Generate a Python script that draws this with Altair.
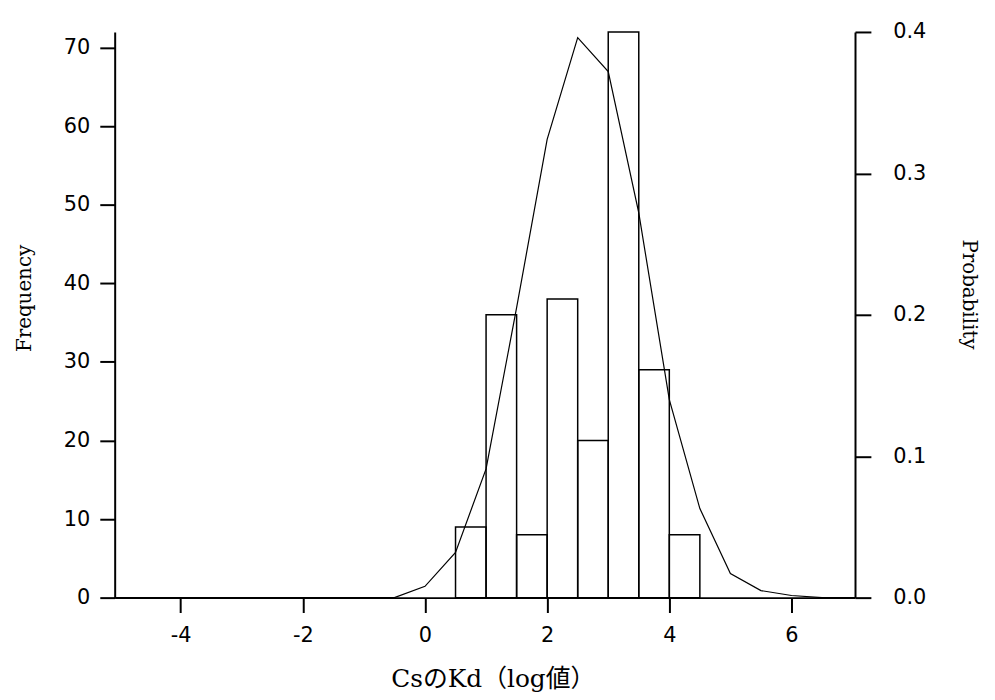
import altair as alt
import pandas as pd

# Histogram bins (log Kd of Cs) and frequencies
bin_start = [0.5, 1.0, 1.5, 2.0, 2.5, 3.0, 3.5, 4.0]
bin_end = [1.0, 1.5, 2.0, 2.5, 3.0, 3.5, 4.0, 4.5]
frequency = [9, 36, 8, 38, 20, 72, 29, 8]

# Probability curve vertices
curve_x = [-5.08, -0.5, 0.0, 0.5, 1.0, 1.5, 2.0, 2.5, 3.0, 3.5, 4.0, 4.5, 5.0, 5.5, 6.0, 6.5, 7.04]
curve_p = [0.0, 0.0, 0.008, 0.032, 0.091, 0.205, 0.324, 0.396, 0.372, 0.272, 0.140, 0.063, 0.017, 0.005, 0.0015, 0.0, 0.0]

x_ticks = [-4, -2, 0, 2, 4, 6]
freq_ticks = [0, 10, 20, 30, 40, 50, 60, 70]
prob_ticks = [0.0, 0.1, 0.2, 0.3, 0.4]

bars_df = pd.DataFrame({"start": bin_start, "end": bin_end, "freq": frequency})
curve_df = pd.DataFrame({"kd": curve_x, "p": curve_p})

x_scale = alt.Scale(domain=[-5.08, 7.04], nice=False, zero=False)

common_axis = dict(
    domainColor="black", domainWidth=2, tickColor="black", tickWidth=2,
    labelColor="black", titleColor="black", grid=False,
    labelFont="DejaVu Sans", labelFontSize=21,
    titleFontWeight="normal", titleBaseline="middle",
)

x_axis = alt.Axis(
    values=x_ticks, labelExpr="'' + datum.value",
    title="CsのKd（log値）", titleFont="DejaVu Serif, Noto Sans CJK JP",
    titleFontSize=25, titleX=381, titleY=82,
    tickSize=15, labelPadding=12, **common_axis)

bars = alt.Chart(bars_df).mark_rect(
    fill="white", fillOpacity=0, stroke="black", strokeWidth=1.5
).encode(
    x=alt.X("start:Q", scale=x_scale, axis=x_axis),
    x2="end:Q",
    y=alt.Y("freq:Q", scale=alt.Scale(domain=[0, 72], nice=False), axis=alt.Axis(
        values=freq_ticks, title="Frequency", titleFont="DejaVu Serif",
        titleFontSize=20, titleX=-91, titleY=268,
        tickSize=15, labelPadding=10, **common_axis)),
    y2=alt.datum(0),
)

line = alt.Chart(curve_df).mark_line(color="black", strokeWidth=1.2).encode(
    x=alt.X("kd:Q", scale=x_scale, axis=x_axis),
    y=alt.Y("p:Q", scale=alt.Scale(domain=[0, 0.4], nice=False), axis=alt.Axis(
        orient="right", values=prob_ticks, format=".1f",
        title="Probability", titleFont="DejaVu Serif", titleFontSize=20,
        titleX=114, titleY=264,
        tickSize=16, labelPadding=22, **common_axis)),
)

chart = alt.layer(bars, line).resolve_scale(y="independent").properties(
    width=746, height=570,
    autosize=alt.AutoSizeParams(type="none"),
    padding={"left": 107.5, "top": 21.5, "right": 133, "bottom": 100},
    background="white",
).configure_view(stroke=None)

chart.save("out.html", embed_options={"renderer": "svg", "actions": False})
